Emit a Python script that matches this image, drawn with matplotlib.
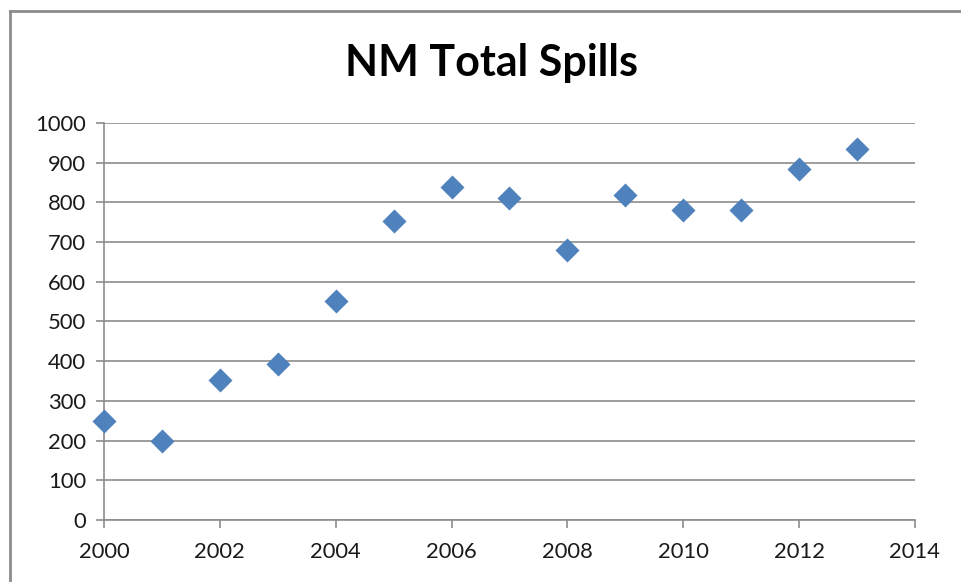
import numpy as np
import matplotlib
matplotlib.use("Agg")
import matplotlib.pyplot as plt
from matplotlib.lines import Line2D

years = [2000, 2001, 2002, 2003, 2004, 2005, 2006, 2007, 2008, 2009, 2010, 2011, 2012, 2013]
spills = [250, 200, 353, 392, 552, 753, 840, 811, 679, 818, 782, 782, 884, 934]

x_ticks = np.arange(2000, 2015, 2)
y_ticks = np.arange(0, 1001, 100)

plt.rcParams['font.family'] = ['Lato', 'DejaVu Sans']

fig = plt.figure(figsize=(9.61, 5.82), dpi=100)
ax = fig.add_axes([0.1082, 0.1065, 0.9521 - 0.1082, 0.7887 - 0.1065])

ax.scatter(years, spills, marker='D', s=150, color='#4F81BD', zorder=3,
           linewidths=0, clip_on=False)

ax.set_xlim(2000, 2014)
ax.set_ylim(0, 1000)
ax.set_xticks(x_ticks)
ax.set_yticks(y_ticks)
ax.grid(axis='y', color='#8c8c8c', linewidth=1.2)
ax.set_axisbelow(True)

for side in ['top', 'right']:
    ax.spines[side].set_visible(False)
for side in ['left', 'bottom']:
    ax.spines[side].set_color('#8c8c8c')
    ax.spines[side].set_linewidth(1.2)
ax.tick_params(axis='both', colors='#8c8c8c', labelcolor='#1a1a1a', labelsize=15.8,
               length=6, width=1.2)
ax.tick_params(axis='y', pad=7)
ax.tick_params(axis='x', pad=10)

fig.text(0.511, 0.892, "NM Total Spills", ha='center', va='center',
         fontsize=31, fontweight='bold', color='black')

# chart frame (left and top edges visible in the crop)
fig.add_artist(Line2D([10 / 961, 10 / 961], [0, 1 - 11 / 582], transform=fig.transFigure,
                      color='#8c8c8c', linewidth=2))
fig.add_artist(Line2D([10 / 961, 1], [1 - 11 / 582, 1 - 11 / 582], transform=fig.transFigure,
                      color='#8c8c8c', linewidth=2))

fig.savefig("out.png", dpi=100)
